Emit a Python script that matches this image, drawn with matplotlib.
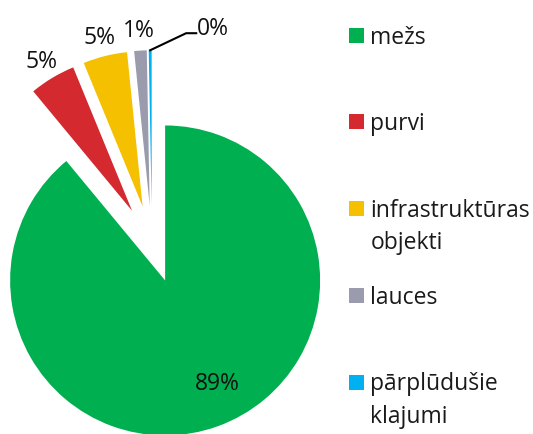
import numpy as np
import matplotlib.pyplot as plt
from matplotlib.patches import Rectangle

plt.rcParams["font.family"] = ["Open Sans", "DejaVu Sans"]

categories = ["mežs", "purvi", "infrastruktūras\nobjekti", "lauces", "pārplūdušie\nklajumi"]
shares = [89.0, 4.8, 4.6, 1.3, 0.3]
colors = ["#00B050", "#D3292F", "#F5C000", "#9A9BAD", "#00B0F0"]

W, H = 533, 435
fig = plt.figure(figsize=(W / 100, H / 100), dpi=100)

# pie centre (152, 245) px, radius 155 px
cx, cy, r = 152, 245, 155
ax = fig.add_axes([(cx - r) / W, (H - cy - r) / H, 2 * r / W, 2 * r / H])
wedges, _ = ax.pie(shares, colors=colors, startangle=90, counterclock=False,
                   explode=[0.25] * len(shares), radius=1,
                   wedgeprops=dict(linewidth=0))
ax.set_xlim(-1, 1)
ax.set_ylim(-1, 1)
ax.axis("off")

fs = 16.5
for i, (w, v) in enumerate(zip(wedges, shares)):
    mid = np.deg2rad((w.theta1 + w.theta2) / 2)
    txt = f"{v:.0f}%"
    if i == 0:
        a = mid + np.deg2rad(7)
        x, y = w.center[0] + 0.74 * np.cos(a), w.center[1] + 0.74 * np.sin(a)
        ax.text(x, y, txt, ha="center", va="center", fontsize=fs, color="#111111")
    elif i == len(shares) - 1:
        ox = w.center[0] + np.cos(mid)
        oy = w.center[1] + np.sin(mid)
        ex, ey = ox + 0.232, oy + 0.11
        ax.plot([ox, ex, ex + 0.065], [oy, ey, ey], color="black", lw=1.5,
                clip_on=False)
        ax.text(ex + 0.07, ey + 0.035, txt, ha="left", va="center",
                fontsize=fs, color="#111111")
    else:
        ax.text(1.39 * np.cos(mid), 1.39 * np.sin(mid) - 0.01, txt, ha="center",
                va="center", fontsize=fs, color="#111111")

# legend drawn by hand, square aligned with first text line
for i, (lab, col) in enumerate(zip(categories, colors)):
    yc = 36 + 86.75 * i
    fig.add_artist(Rectangle((349 / W, 1 - (yc + 7.5) / H), 15 / W, 15 / H,
                             transform=fig.transFigure, color=col, lw=0))
    for k, line in enumerate(lab.split("\n")):
        fig.text(370.5 / W, 1 - (yc + 7.5 + 32.5 * k) / H, line, ha="left",
                 va="baseline", fontsize=fs, color="#1a1a1a")

fig.savefig("out.png", dpi=100)
